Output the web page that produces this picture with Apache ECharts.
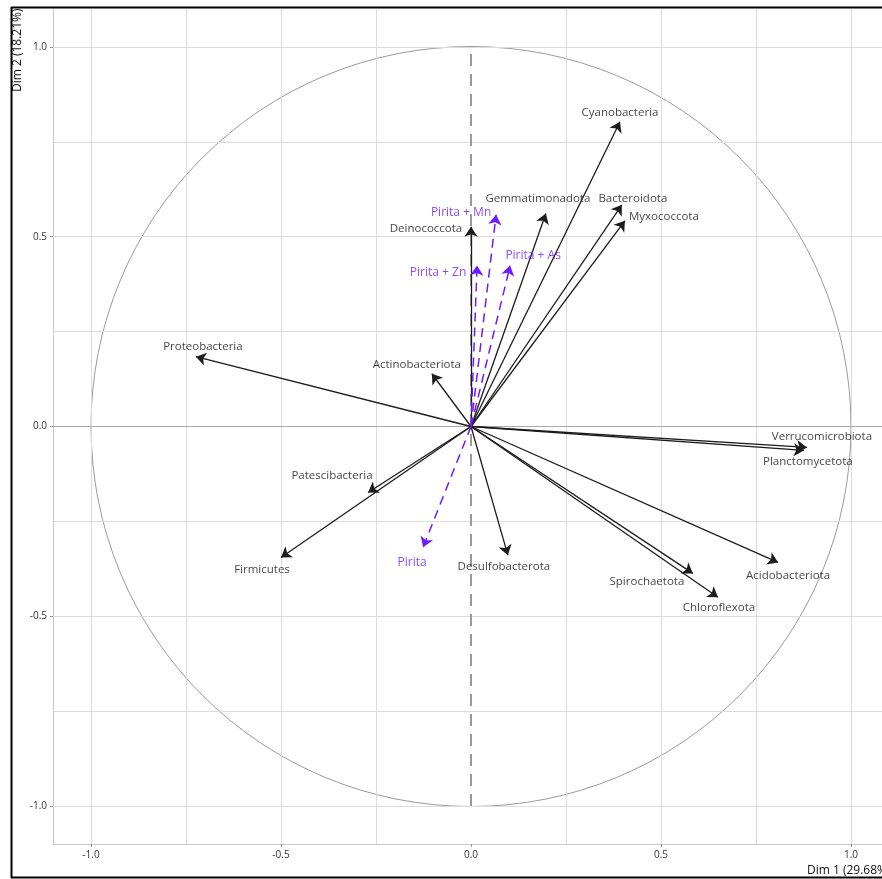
<!DOCTYPE html>
<html>
<head>
<meta charset="utf-8">
<script src="https://cdn.jsdelivr.net/npm/echarts@6/dist/echarts.min.js"></script>
<style>
  html, body { margin: 0; padding: 0; background: #fff; overflow: hidden; }
  #chart { width: 890px; height: 879px; }
</style>
</head>
<body>
<div id="chart"></div>
<script>
// Correlation circle: variable coordinates on the first two dimensions
const activeNames = ['Cyanobacteria', 'Gemmatimonadota', 'Bacteroidota', 'Myxococcota', 'Deinococcota',
  'Proteobacteria', 'Actinobacteriota', 'Verrucomicrobiota', 'Planctomycetota', 'Acidobacteriota',
  'Spirochaetota', 'Chloroflexota', 'Desulfobacterota', 'Patescibacteria', 'Firmicutes'];
const activeDim1 = [0.392, 0.197, 0.397, 0.405, 0.000, -0.724, -0.103, 0.884, 0.876, 0.808, 0.584, 0.650, 0.097, -0.271, -0.500];
const activeDim2 = [0.803, 0.561, 0.584, 0.542, 0.526, 0.184, 0.139, -0.055, -0.063, -0.358, -0.387, -0.450, -0.339, -0.174, -0.345];

// Supplementary (qualitative) variables
const supNames = ['Pirita + Mn', 'Pirita + Zn', 'Pirita + As', 'Pirita'];
const supDim1 = [0.066, 0.016, 0.103, -0.126];
const supDim2 = [0.558, 0.424, 0.424, -0.318];

// Axis ticks
const tickValues = [-1.0, -0.5, 0.0, 0.5, 1.0];
const gridValues = [-1.0, -0.75, -0.5, -0.25, 0.25, 0.5, 0.75, 1.0];

const axisTitleX = 'Dim 1 (29.68%)';
const axisTitleY = 'Dim 2 (18.21%)';

// Label placement relative to each arrow tip (pixels)
const labelNudge = {
  'Cyanobacteria': [0, -9], 'Gemmatimonadota': [-8, -15], 'Bacteroidota': [11, -6],
  'Myxococcota': [39, -4], 'Deinococcota': [-45, 2], 'Proteobacteria': [7, -10],
  'Actinobacteriota': [-15, -9], 'Verrucomicrobiota': [15, -11], 'Planctomycetota': [4, 11],
  'Acidobacteriota': [10, 13], 'Spirochaetota': [-46, 8], 'Chloroflexota': [1, 10],
  'Desulfobacterota': [-4, 12], 'Patescibacteria': [-36, -17], 'Firmicutes': [-19, 12],
  'Pirita + Mn': [-35, -2], 'Pirita + Zn': [-39, 7], 'Pirita + As': [23, -10], 'Pirita': [-11, 15]
};

const FONT = 'Open Sans';
const ACTIVE_COLOR = '#111111';
const SUP_COLOR = '#6e1cff';

function arrows(names, xs, ys) {
  return names.map((n, i) => ({ name: n, coords: [[0, 0], [xs[i], ys[i]]] }));
}
function tips(names, xs, ys) {
  return names.map((n, i) => ({
    name: n,
    value: [xs[i], ys[i]],
    label: { offset: labelNudge[n] || [0, 0] }
  }));
}

const chart = echarts.init(document.getElementById('chart'), null, { renderer: 'canvas' });

chart.setOption({
  animation: false,
  backgroundColor: '#fff',
  grid: { left: 53, right: 1, top: 9, bottom: 35, containLabel: false },
  xAxis: {
    type: 'value', min: -1.1, max: 1.1,
    axisLine: { show: true, onZero: false, lineStyle: { color: '#c8c8c8', width: 1 } },
    axisTick: { show: true, customValues: tickValues, length: 3, lineStyle: { color: '#999' } },
    axisLabel: { customValues: tickValues, formatter: v => v.toFixed(1), fontFamily: FONT, fontSize: 10, color: '#333', margin: 6 },
    splitLine: { show: false }
  },
  yAxis: {
    type: 'value', min: -1.1, max: 1.1,
    axisLine: { show: true, onZero: false, lineStyle: { color: '#c8c8c8', width: 1 } },
    axisTick: { show: true, customValues: tickValues, length: 3, lineStyle: { color: '#999' } },
    axisLabel: { customValues: tickValues, formatter: v => v.toFixed(1), fontFamily: FONT, fontSize: 10, color: '#333', margin: 6 },
    splitLine: { show: false }
  },
  graphic: [
    // outer frame
    { type: 'line', shape: { x1: 11.5, y1: 7, x2: 11.5, y2: 878 }, style: { stroke: '#000', lineWidth: 2 }, z: 100 },
    { type: 'line', shape: { x1: 11, y1: 7.5, x2: 890, y2: 7.5 }, style: { stroke: '#000', lineWidth: 2 }, z: 100 },
    { type: 'line', shape: { x1: 11, y1: 877.5, x2: 890, y2: 877.5 }, style: { stroke: '#000', lineWidth: 2 }, z: 100 },
    // axis titles
    { type: 'text', x: 807, y: 871, style: { text: axisTitleX, font: '12px "' + FONT + '"', fill: '#111', textVerticalAlign: 'middle', textAlign: 'left' }, z: 50 },
    { type: 'text', x: 18, y: 92, rotation: Math.PI / 2, style: { text: axisTitleY, font: '12px "' + FONT + '"', fill: '#111', textVerticalAlign: 'middle', textAlign: 'left' }, z: 50 }
  ],
  series: [
    {
      // background grid lines
      type: 'line', data: [], silent: true, z: 1,
      markLine: {
        silent: true, symbol: 'none', label: { show: false },
        lineStyle: { color: '#dcdcdc', width: 1, type: 'solid' },
        data: gridValues.map(v => ({ xAxis: v })).concat(gridValues.map(v => ({ yAxis: v })))
      }
    },
    {
      // reference lines through the origin
      type: 'line', data: [], silent: true, z: 2,
      markLine: {
        silent: true, symbol: 'none', label: { show: false },
        data: [
          { yAxis: 0, lineStyle: { color: '#aaaaaa', width: 1, type: 'solid' } },
          [{ coord: [0, -1], lineStyle: { color: '#9a9a9a', width: 2, type: [12, 8] } }, { coord: [0, 1] }]
        ]
      }
    },
    {
      // unit circle
      type: 'custom', silent: true, z: 3, clip: false,
      data: [[0, 0]],
      renderItem: function (params, api) {
        const c = api.coord([0, 0]);
        const r = api.size([1, 1])[0];
        return { type: 'circle', shape: { cx: c[0], cy: c[1], r: r }, style: { fill: 'none', stroke: '#9a9a9a', lineWidth: 1 } };
      }
    },
    {
      type: 'lines', coordinateSystem: 'cartesian2d', z: 5, silent: true,
      symbol: ['none', 'arrow'], symbolSize: [0, 10],
      lineStyle: { color: '#1c1c1c', width: 1.3, opacity: 1 },
      data: arrows(activeNames, activeDim1, activeDim2)
    },
    {
      type: 'lines', coordinateSystem: 'cartesian2d', z: 5, silent: true,
      symbol: ['none', 'arrow'], symbolSize: [0, 10],
      lineStyle: { color: SUP_COLOR, width: 1.5, type: [9, 6], opacity: 1 },
      data: arrows(supNames, supDim1, supDim2)
    },
    {
      type: 'scatter', z: 6, silent: true, symbolSize: 0,
      label: { show: true, position: 'inside', formatter: p => p.name, fontFamily: FONT, fontSize: 11.5, color: ACTIVE_COLOR, align: 'center', verticalAlign: 'middle' },
      data: tips(activeNames, activeDim1, activeDim2)
    },
    {
      type: 'scatter', z: 6, silent: true, symbolSize: 0,
      label: { show: true, position: 'inside', formatter: p => p.name, fontFamily: FONT, fontSize: 12, color: SUP_COLOR, align: 'center', verticalAlign: 'middle' },
      data: tips(supNames, supDim1, supDim2)
    }
  ]
});
</script>
</body>
</html>
